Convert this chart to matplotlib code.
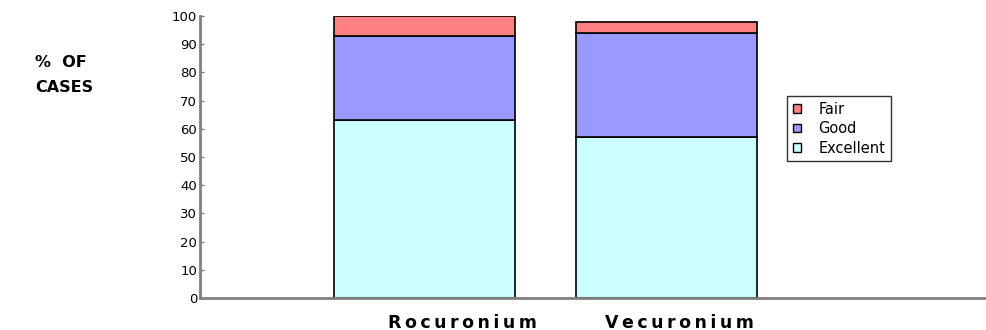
import matplotlib
matplotlib.use("Agg")
import matplotlib.pyplot as plt
from matplotlib.patches import Patch

categories = ["Rocuronium", "Vecuronium"]
excellent = [63, 57]
good = [30, 37]
fair = [7, 4]
yticks = list(range(0, 101, 10))

c_exc = "#CCFFFF"
c_good = "#9999FF"
c_fair = "#FF8080"

fig = plt.figure(figsize=(9.87, 3.30), dpi=100)
ax = fig.add_axes([200 / 987, 32 / 330, 785 / 987, 282 / 330])

x = [0, 1]
w = 0.75
ax.bar(x, excellent, width=w, color=c_exc, edgecolor="black", linewidth=1.2)
ax.bar(x, good, width=w, bottom=excellent, color=c_good, edgecolor="black", linewidth=1.2)
bot2 = [e + g for e, g in zip(excellent, good)]
ax.bar(x, fair, width=w, bottom=bot2, color=c_fair, edgecolor="black", linewidth=1.2)

ax.set_xlim(-0.93, 2.32)
ax.set_ylim(0, 100)
for s in ["top", "right"]:
    ax.spines[s].set_visible(False)
for s in ["left", "bottom"]:
    ax.spines[s].set_color("#808080")
    ax.spines[s].set_linewidth(2)

ax.set_yticks(yticks)
ax.set_yticklabels([str(t) for t in yticks], fontsize=9.5)
ax.tick_params(axis="y", direction="in", length=3, width=1, color="#808080", pad=2)
ax.set_xticks([])

# spaced-out bold category names under the bars
label_shift = [0.155, 0.055]
for xi, name, dx in zip(x, categories, label_shift):
    ax.text(xi + dx, -5.5, "\u2009".join(name), ha="center", va="top", fontsize=12.5,
            fontweight="bold", transform=ax.transData, clip_on=False)

fig.text(35 / 987, 1 - 75 / 330, "%  OF\nCASES", ha="left", va="center",
         fontsize=11.5, fontweight="bold", linespacing=1.9)

handles = [Patch(facecolor=c_fair, edgecolor="black", label="Fair"),
           Patch(facecolor=c_good, edgecolor="black", label="Good"),
           Patch(facecolor=c_exc, edgecolor="black", label="Excellent")]
leg = fig.legend(handles=handles, loc="upper left",
                 bbox_to_anchor=(787 / 987, 1 - 96 / 330),
                 fontsize=10.5, frameon=True, fancybox=False, handlelength=0.55,
                 handleheight=0.55, handletextpad=1.2, labelspacing=0.3,
                 borderpad=0.4, borderaxespad=0, edgecolor="black")
leg.get_frame().set_linewidth(1)

fig.savefig("out.png", dpi=100)
